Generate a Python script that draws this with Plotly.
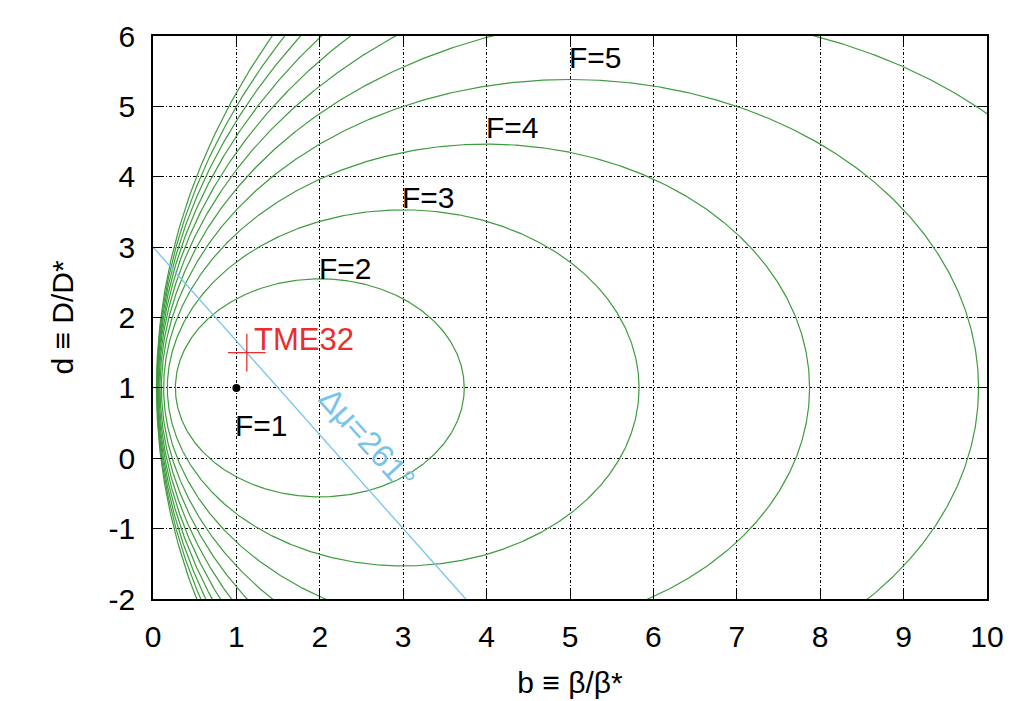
import numpy as np
import plotly.graph_objects as go

# ---- data ----
F_LEVELS = [2, 3, 4, 5, 6, 7, 8, 9, 10, 11, 12]
F_LABELS = ["F=1", "F=2", "F=3", "F=4", "F=5"]
F_LABEL_B = [1.0, 2.0, 3.0, 4.0, 5.0]
F_LABEL_D = [0.47, 2.70, 3.70, 4.70, 5.69]
MIN_POINT_B = [1.0]
MIN_POINT_D = [1.0]
TME32_B = [1.125]
TME32_D = [1.5]
PHASE_LINE_B = [0.0, 3.75]
PHASE_LINE_D = [3.0, -2.0]
X_TICKS = list(range(0, 11))
Y_TICKS = list(range(-2, 7))

GREEN = "rgb(62,155,62)"
BLUE = "rgb(120,195,235)"
RED = "rgb(235,45,45)"
FONT = "Liberation Sans, Arial, sans-serif"
FS = 30

fig = go.Figure()

# emittance contours F(b,d) = (1 + b^2 + 5/4 (d-1)^2) / (2b)
t = np.linspace(0, 2 * np.pi, 1500)
for F in F_LEVELS:
    a = np.sqrt(F * F - 1)
    c = np.sqrt((F * F - 1) * 4.0 / 5.0)
    fig.add_trace(go.Scatter(x=F + a * np.cos(t), y=1 + c * np.sin(t), mode="lines",
                             line=dict(color=GREEN, width=1.2), hoverinfo="skip",
                             showlegend=False))

fig.add_trace(go.Scatter(x=PHASE_LINE_B, y=PHASE_LINE_D, mode="lines",
                         line=dict(color=BLUE, width=1.3), showlegend=False))
fig.add_trace(go.Scatter(x=MIN_POINT_B, y=MIN_POINT_D, mode="markers",
                         marker=dict(color="black", size=8), showlegend=False))
fig.add_trace(go.Scatter(x=TME32_B, y=TME32_D, mode="markers",
                         marker=dict(symbol="cross-thin", size=27,
                                     line=dict(color=RED, width=1.3)),
                         showlegend=False))

for lab, bx, dy in zip(F_LABELS, F_LABEL_B, F_LABEL_D):
    fig.add_annotation(x=bx, y=dy, text=lab, showarrow=False, xanchor="left",
                       yanchor="middle", xshift=-3, font=dict(family=FONT, size=FS, color="black"))

fig.add_annotation(x=TME32_B[0], y=TME32_D[0], text="TME32", showarrow=False,
                   xanchor="left", yanchor="middle", xshift=5, yshift=13,
                   font=dict(family=FONT, size=31, color=RED))
fig.add_annotation(x=2.57, y=0.28, text="Δμ=261°", showarrow=False, textangle=48,
                   font=dict(family=FONT, size=32, color=BLUE))

axis_common = dict(showline=True, mirror="allticks", linecolor="black", linewidth=1.5,
                   ticks="inside", ticklen=9, tickcolor="black", tickwidth=1,
                   showgrid=True, gridcolor="black", gridwidth=1,
                   griddash="3px,2px,1px,2px", zeroline=False, ticklabelstandoff=10,
                   automargin=False,
                   tickfont=dict(family=FONT, size=FS, color="black"))

fig.update_xaxes(range=[0, 10], tickvals=X_TICKS, ticktext=[str(v) for v in X_TICKS],
                 title=dict(text="b ≡ β/β*", font=dict(family=FONT, size=FS, color="black"),
                            standoff=20),
                 **axis_common)
fig.update_yaxes(range=[-2, 6], tickvals=Y_TICKS, ticktext=[str(v) for v in Y_TICKS],
                 title=dict(text="d ≡ D/D*", font=dict(family=FONT, size=FS, color="black"),
                            standoff=26),
                 **axis_common)

fig.update_layout(width=1024, height=701, margin=dict(l=153, r=37, t=36, b=102),
                  paper_bgcolor="white", plot_bgcolor="white", showlegend=False)

fig.write_html("out.html")
